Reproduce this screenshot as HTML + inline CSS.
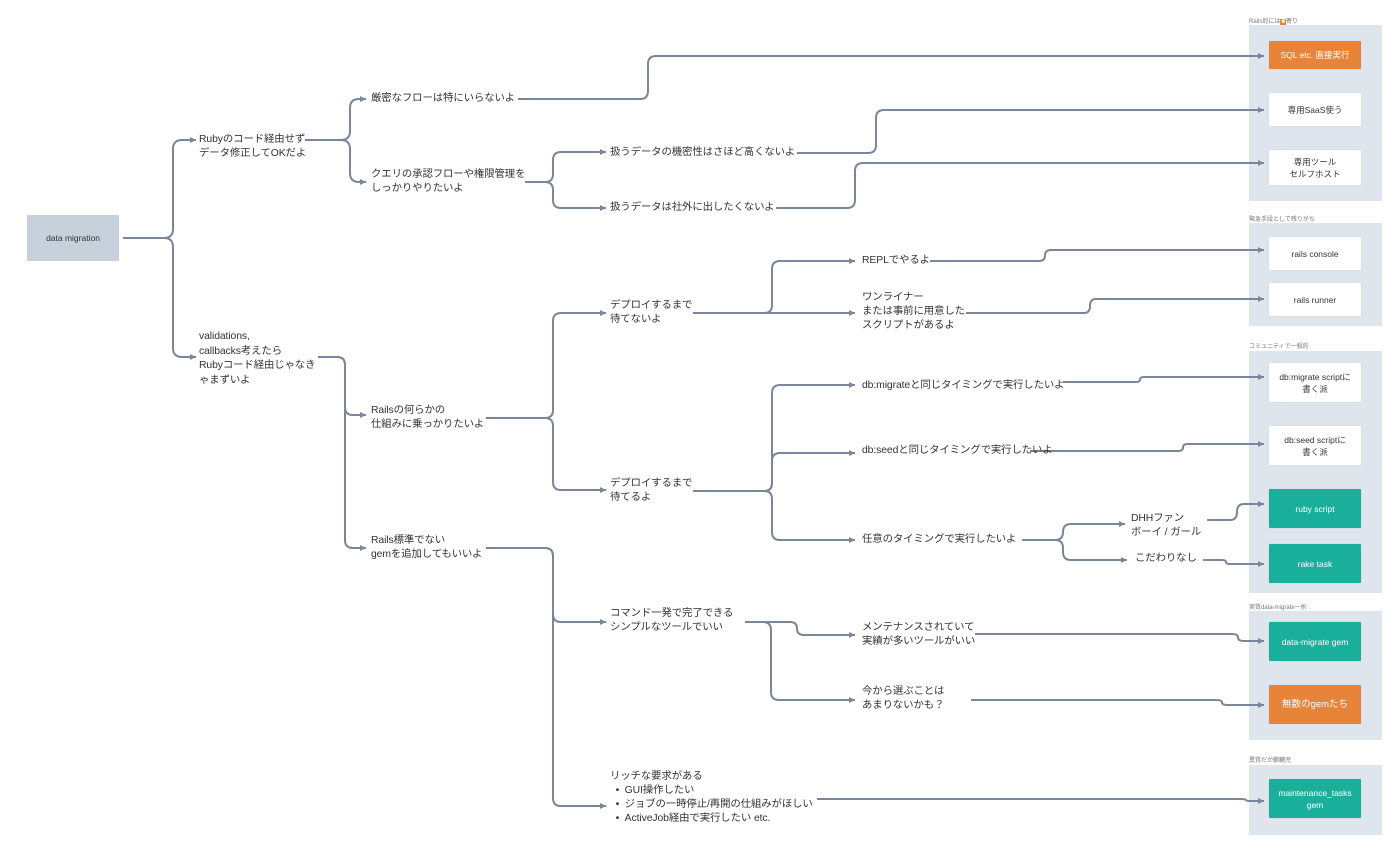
<!DOCTYPE html>
<html><head><meta charset="utf-8"><style>
html,body{margin:0;padding:0;background:#fff;}
body{width:1400px;height:852px;position:relative;overflow:hidden;font-family:"Liberation Sans","Noto Sans CJK JP",sans-serif;color:#333;}
.t{position:absolute;font-size:10.4px;line-height:14px;white-space:nowrap;color:#333;letter-spacing:-0.1px;}
.g{position:absolute;background:#dfe5ed;left:1249px;width:133px;}
.gl{position:absolute;left:1249px;font-size:6px;color:#777;white-space:nowrap;}
.b{position:absolute;left:1269px;width:92px;display:flex;align-items:center;justify-content:center;text-align:center;font-size:8.5px;line-height:12px;background:#fff;color:#333;border-radius:1px;box-shadow:0 0 1px rgba(0,0,0,.15);}
.o{background:#e8843a;color:#fff;}
.tl{background:#1aaf9a;color:#fff;}
svg{position:absolute;left:0;top:0;}
</style></head><body>
<div class="gl" style="top:16px">Rails的には<span style="background:#e8843a;color:#fff;padding:0 1px">■</span>寄り</div>
<div class="g" style="top:25px;height:176px"></div>
<div class="gl" style="top:214px">緊急手段として残りがち</div>
<div class="g" style="top:223px;height:103px"></div>
<div class="gl" style="top:341px">コミュニティで一般的</div>
<div class="g" style="top:351px;height:242px"></div>
<div class="gl" style="top:602px">実質data-migrate一択</div>
<div class="g" style="top:611px;height:129px"></div>
<div class="gl" style="top:755px">異質だが麒麟児</div>
<div class="g" style="top:765px;height:70px"></div>

<div class="b o" style="top:41px;height:28px">SQL etc. 直接実行</div>
<div class="b" style="top:93px;height:33px">専用SaaS使う</div>
<div class="b" style="top:150px;height:35px">専用ツール<br>セルフホスト</div>
<div class="b" style="top:237px;height:33px">rails console</div>
<div class="b" style="top:283px;height:33px">rails runner</div>
<div class="b" style="top:363px;height:39px">db:migrate scriptに<br>書く派</div>
<div class="b" style="top:426px;height:39px">db:seed scriptに<br>書く派</div>
<div class="b tl" style="top:489px;height:39px">ruby script</div>
<div class="b tl" style="top:544px;height:39px">rake task</div>
<div class="b tl" style="top:622px;height:39px">data-migrate gem</div>
<div class="b o" style="top:685px;height:39px;font-size:9.5px">無数のgemたち</div>
<div class="b tl" style="top:779px;height:39px">maintenance_tasks<br>gem</div>

<div style="position:absolute;left:27px;top:215px;width:92px;height:46px;background:#c6d1dc;display:flex;align-items:center;justify-content:center;font-size:8.5px;color:#333">data migration</div>

<svg width="1400" height="852" viewBox="0 0 1400 852">
<defs><marker id="a" markerWidth="8" markerHeight="8" refX="6" refY="4" orient="auto" markerUnits="userSpaceOnUse"><path d="M0,1 L6,4 L0,7 Z" fill="#7a8699"/></marker></defs>
<g fill="none" stroke="#7a8699" stroke-width="2" marker-end="url(#a)">
<path d="M123 238 H164 Q173 238 173 229 V149 Q173 140 182 140 H196"/>
<path d="M123 238 H164 Q173 238 173 247 V348 Q173 357 182 357 H196"/>
<path d="M305 140 H341 Q350 140 350 131 V108 Q350 99 359 99 H366"/>
<path d="M305 140 H341 Q350 140 350 149 V173 Q350 182 359 182 H366"/>
<path d="M518 99 H640 Q648 99 648 91 V64 Q648 56 656 56 H1264"/>
<path d="M525 182 H545 Q553 182 553 174 V160 Q553 152 561 152 H606"/>
<path d="M525 182 H545 Q553 182 553 190 V200 Q553 208 561 208 H606"/>
<path d="M797 153 H868 Q876 153 876 145 V118 Q876 110 884 110 H1264"/>
<path d="M776 208 H847 Q855 208 855 200 V171 Q855 163 863 163 H1264"/>
<path d="M318 357 H337 Q345 357 345 365 V407 Q345 415 353 415 H366"/>
<path d="M318 357 H337 Q345 357 345 365 V540 Q345 548 353 548 H366"/>
<path d="M486 418 H545 Q553 418 553 410 V321 Q553 313 561 313 H606"/>
<path d="M486 418 H545 Q553 418 553 426 V482 Q553 490 561 490 H606"/>
<path d="M693 313 H764 Q772 313 772 305 V269 Q772 261 780 261 H855"/>
<path d="M693 313 H855"/>
<path d="M930 261 H1039 Q1045 261 1045 255.5 Q1045 250 1051 250 H1264"/>
<path d="M966 313 H1084 Q1090 313 1090 306 Q1090 299 1096 299 H1264"/>
<path d="M693 491 H764 Q772 491 772 483 V393 Q772 385 780 385 H855"/>
<path d="M693 491 H764 Q772 491 772 483 V461 Q772 453 780 453 H855"/>
<path d="M693 491 H764 Q772 491 772 499 V532 Q772 540 780 540 H855"/>
<path d="M1063 382 H1136 Q1140 382 1140 379.5 Q1140 377 1144 377 H1264"/>
<path d="M1030 451 H1178 Q1183 451 1183 447.5 Q1183 444 1188 444 H1264"/>
<path d="M1022 540 H1055 Q1063 540 1063 532 Q1063 524 1071 524 H1125"/>
<path d="M1022 540 H1055 Q1063 540 1063 548 V552 Q1063 560 1071 560 H1127"/>
<path d="M1207 520 H1230 Q1237 520 1237 512 Q1237 504 1244 504 H1264"/>
<path d="M1203 560 H1222 Q1226 560 1226 562 Q1226 564 1230 564 H1264"/>
<path d="M486 548 H545 Q553 548 553 556 V614 Q553 622 561 622 H606"/>
<path d="M486 548 H545 Q553 548 553 556 V798 Q553 806 561 806 H606"/>
<path d="M745 622 H790 Q797 622 797 628.5 Q797 635 804 635 H855"/>
<path d="M745 622 H763 Q771 622 771 630 V692 Q771 700 779 700 H855"/>
<path d="M975 634 H1232 Q1238 634 1238 637.5 Q1238 641 1244 641 H1264"/>
<path d="M971 700 H1216 Q1222 700 1222 702.5 Q1222 705 1228 705 H1264"/>
<path d="M817 799 H1240 Q1246 799 1246 800 Q1246 801 1250 801 H1264"/>
</g>
</svg>

<div class="t" style="left:199px;top:133px">Rubyのコード経由せず<br>データ修正してOKだよ</div>
<div class="t" style="left:371px;top:92px">厳密なフローは特にいらないよ</div>
<div class="t" style="left:371px;top:168px">クエリの承認フローや権限管理を<br>しっかりやりたいよ</div>
<div class="t" style="left:610px;top:146px">扱うデータの機密性はさほど高くないよ</div>
<div class="t" style="left:610px;top:201px">扱うデータは社外に出したくないよ</div>
<div class="t" style="left:199px;top:330px;line-height:14.5px">validations,<br>callbacks考えたら<br>Rubyコード経由じゃなき<br>ゃまずいよ</div>
<div class="t" style="left:371px;top:404px">Railsの何らかの<br>仕組みに乗っかりたいよ</div>
<div class="t" style="left:610px;top:299px">デプロイするまで<br>待てないよ</div>
<div class="t" style="left:862px;top:254px">REPLでやるよ</div>
<div class="t" style="left:862px;top:291px">ワンライナー<br>または事前に用意した<br>スクリプトがあるよ</div>
<div class="t" style="left:610px;top:477px">デプロイするまで<br>待てるよ</div>
<div class="t" style="left:862px;top:379px">db:migrateと同じタイミングで実行したいよ</div>
<div class="t" style="left:862px;top:444px">db:seedと同じタイミングで実行したいよ</div>
<div class="t" style="left:862px;top:533px">任意のタイミングで実行したいよ</div>
<div class="t" style="left:1131px;top:512px">DHHファン<br>ボーイ / ガール</div>
<div class="t" style="left:1135px;top:552px">こだわりなし</div>
<div class="t" style="left:371px;top:534px">Rails標準でない<br>gemを追加してもいいよ</div>
<div class="t" style="left:610px;top:607px">コマンド一発で完了できる<br>シンプルなツールでいい</div>
<div class="t" style="left:862px;top:621px">メンテナンスされていて<br>実績が多いツールがいい</div>
<div class="t" style="left:862px;top:685px">今から選ぶことは<br>あまりないかも？</div>
<div class="t" style="left:610px;top:770px">リッチな要求がある<br>&nbsp;&nbsp;•&nbsp;&nbsp;GUI操作したい<br>&nbsp;&nbsp;•&nbsp;&nbsp;ジョブの一時停止/再開の仕組みがほしい<br>&nbsp;&nbsp;•&nbsp;&nbsp;ActiveJob経由で実行したい etc.</div>
</body></html>
